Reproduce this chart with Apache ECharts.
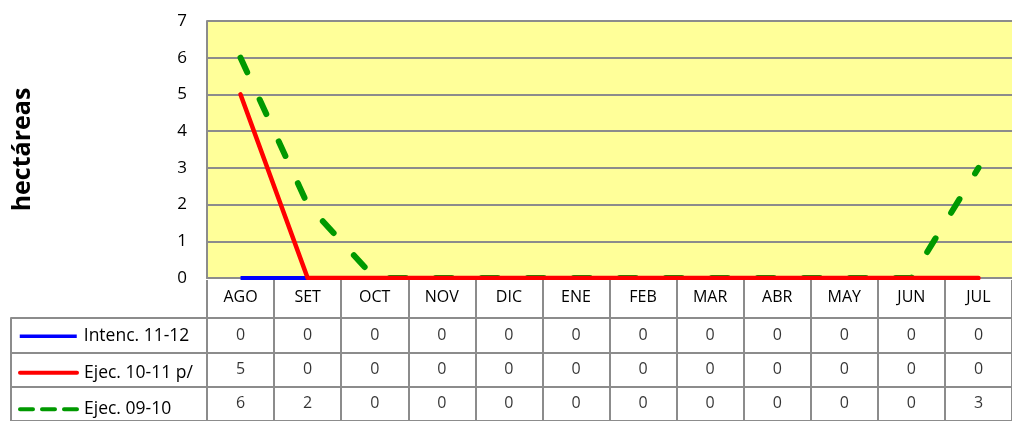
<!DOCTYPE html>
<html>
<head>
<meta charset="utf-8">
<script src="https://cdn.jsdelivr.net/npm/echarts@6/dist/echarts.min.js"></script>
<style>
  html, body { margin: 0; padding: 0; background: #fff; }
  #chart { width: 1012px; height: 421px; }
</style>
</head>
<body>
<div id="chart"></div>
<script>
const months = ['AGO', 'SET', 'OCT', 'NOV', 'DIC', 'ENE', 'FEB', 'MAR', 'ABR', 'MAY', 'JUN', 'JUL']
const yTicks = [0, 1, 2, 3, 4, 5, 6, 7]
const seriesNames = ['Intenc. 11-12', 'Ejec. 10-11 p/', 'Ejec. 09-10']
const intenc1112 = [0, 0, 0, 0, 0, 0, 0, 0, 0, 0, 0, 0]
const ejec1011 = [5, 0, 0, 0, 0, 0, 0, 0, 0, 0, 0, 0]
const ejec0910 = [6, 2, 0, 0, 0, 0, 0, 0, 0, 0, 0, 3]

const FONT = '"Open Sans", sans-serif'
const GRID_COLOR = '#8c8c8c'
const rowValues = [intenc1112, ejec1011, ejec0910]

// celdas de la tabla: [mes, fila, valor]
const tableCells = []
rowValues.forEach((row, r) => {
  row.forEach((v, i) => tableCells.push([i, r, v]))
})

const chart = echarts.init(document.getElementById('chart'))

const rowTop = 318
const rowH = 36.5

const legendLine = [
  { color: '#0000ff', width: 3.5, type: 'solid' },
  { color: '#ff0000', width: 4, type: 'solid' },
  { color: '#009900', width: 4, type: [13, 9] }
]

// una leyenda por fila de la tabla
const legends = seriesNames.map((name, i) => ({
  data: [{ name: name, lineStyle: legendLine[i], itemStyle: { opacity: 0 } }],
  left: 18,
  top: rowTop + rowH * i + rowH / 2 - 10,
  padding: 0,
  itemWidth: 57,
  itemHeight: 20,
  itemGap: 0,
  selectedMode: false,
  textStyle: { fontFamily: FONT, fontSize: 17.5, color: '#000', lineHeight: 20, padding: [0, 0, 0, 2] }
}))

const option = {
  animation: false,
  legend: legends,
  grid: [
    { left: 207, top: 21, width: 814, height: 257, show: true, backgroundColor: '#ffff99', borderWidth: 0 },
    { left: 207, top: rowTop, width: 814, height: rowH * 3, show: false }
  ],
  xAxis: [
    {
      // meses + borde inferior del área de trazado
      gridIndex: 0,
      type: 'category',
      data: months,
      position: 'bottom',
      boundaryGap: true,
      z: 0,
      axisLine: { show: true, lineStyle: { color: GRID_COLOR, width: 2 } },
      axisTick: { show: false },
      axisLabel: { interval: 0, margin: 11, fontFamily: FONT, fontSize: 16, color: '#000' },
      splitLine: { show: false }
    },
    {
      gridIndex: 1,
      type: 'category',
      data: months,
      position: 'top',
      boundaryGap: true,
      axisLine: { show: true, lineStyle: { color: GRID_COLOR, width: 2 } },
      axisTick: { show: false },
      axisLabel: { show: false },
      splitLine: { show: true, interval: 0, lineStyle: { color: GRID_COLOR, width: 2 } }
    },
    {
      // banda blanca: recorta la mitad inferior de las líneas en 0
      gridIndex: 0,
      type: 'category',
      data: months,
      position: 'bottom',
      offset: 5,
      z: 5,
      axisLine: { show: true, lineStyle: { color: '#ffffff', width: 6 } },
      axisTick: { show: false },
      axisLabel: { show: false },
      splitLine: { show: false }
    },
    {
      // separadores verticales de la fila de meses
      gridIndex: 0,
      type: 'category',
      data: months,
      position: 'bottom',
      boundaryGap: true,
      offset: 2,
      z: 6,
      axisLine: { show: false },
      axisTick: { show: true, inside: false, length: 38, interval: 0, lineStyle: { color: GRID_COLOR, width: 2 } },
      axisLabel: { show: false },
      splitLine: { show: false }
    }
  ],
  yAxis: [
    {
      gridIndex: 0,
      type: 'value',
      min: 0,
      max: 7,
      interval: 1,
      name: 'hectáreas',
      nameLocation: 'middle',
      nameRotate: 90,
      nameGap: 172,
      nameTextStyle: { fontFamily: FONT, fontSize: 25, fontWeight: 'bold', color: '#000' },
      axisLine: { show: true, lineStyle: { color: GRID_COLOR, width: 2 } },
      axisTick: { show: false },
      axisLabel: { margin: 20, fontFamily: FONT, fontSize: 17, color: '#000',
        formatter: v => yTicks.includes(v) ? String(v) : '' },
      splitLine: { show: true, lineStyle: { color: GRID_COLOR, width: 2 } }
    },
    {
      gridIndex: 1,
      type: 'category',
      data: seriesNames,
      inverse: true,
      position: 'left',
      boundaryGap: true,
      axisLine: { show: true, lineStyle: { color: GRID_COLOR, width: 2 } },
      axisTick: { show: true, inside: false, length: 196, interval: 0, lineStyle: { color: GRID_COLOR, width: 2 } },
      axisLabel: { show: false },
      splitLine: { show: true, interval: 0, lineStyle: { color: GRID_COLOR, width: 2 } }
    },
    {
      gridIndex: 1,
      type: 'category',
      data: seriesNames,
      inverse: true,
      position: 'left',
      offset: 196,
      axisLine: { show: true, lineStyle: { color: GRID_COLOR, width: 2 } },
      axisTick: { show: false },
      axisLabel: { show: false },
      splitLine: { show: false }
    }
  ],
  series: [
    {
      name: seriesNames[0],
      type: 'line',
      data: intenc1112,
      symbol: 'none',
      z: 2,
      lineStyle: { color: '#0000ff', width: 4 },
      itemStyle: { color: '#0000ff' }
    },
    {
      name: seriesNames[1],
      type: 'line',
      data: ejec1011,
      symbol: 'none',
      z: 4,
      lineStyle: { color: '#ff0000', width: 4.5, cap: 'round', join: 'round' },
      itemStyle: { color: '#ff0000' }
    },
    {
      name: seriesNames[2],
      type: 'line',
      data: ejec0910,
      symbol: 'none',
      z: 3,
      lineStyle: { color: '#009900', width: 6, type: [16, 30], cap: 'round' },
      itemStyle: { color: '#009900' }
    },
    {
      name: 'tabla',
      type: 'scatter',
      xAxisIndex: 1,
      yAxisIndex: 1,
      data: tableCells,
      symbolSize: 0,
      silent: true,
      label: {
        show: true,
        position: 'inside',
        formatter: p => String(p.value[2]),
        fontFamily: FONT,
        fontSize: 16,
        color: '#000'
      }
    }
  ]
}

chart.setOption(option)
</script>
</body>
</html>
